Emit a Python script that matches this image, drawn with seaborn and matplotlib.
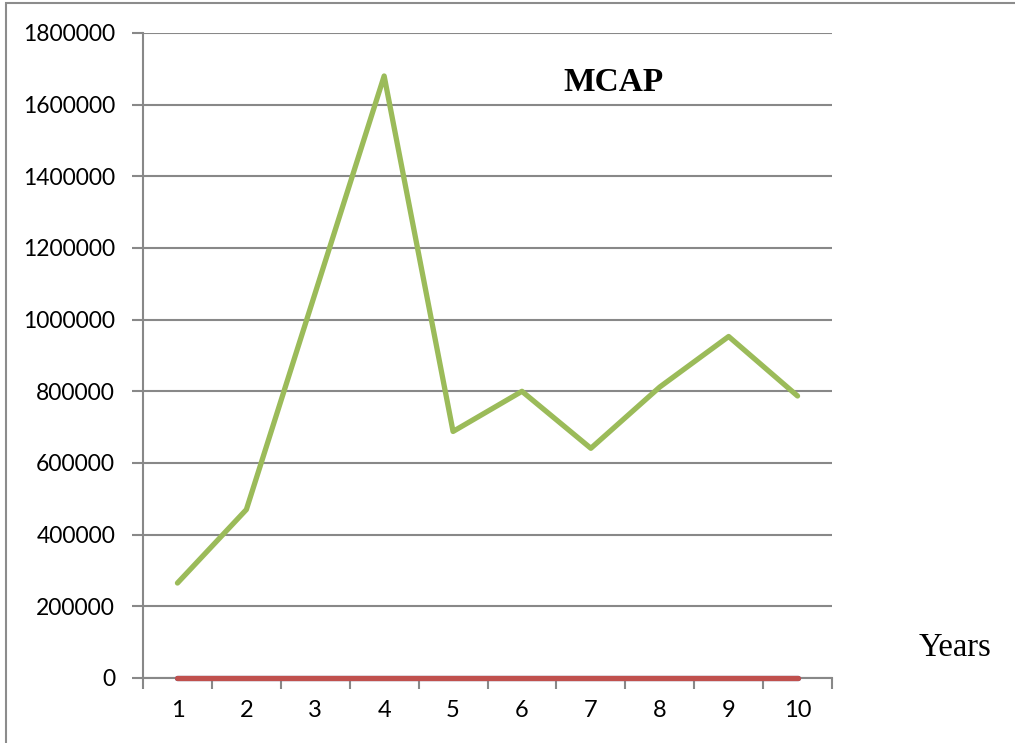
import numpy as np
import pandas as pd
import matplotlib.pyplot as plt
import seaborn as sns
from matplotlib.patches import Rectangle

# Data
years = [1, 2, 3, 4, 5, 6, 7, 8, 9, 10]
series_blue = [0, 0, 0, 0, 0, 0, 0, 0, 0, 0]
series_red = [0, 0, 0, 0, 0, 0, 0, 0, 0, 0]
mcap = [265000, 470000, 1075000, 1680000, 688000, 800000, 641000, 812000, 953000, 787000]

df = pd.DataFrame({
    'Year': years * 3,
    'Value': series_blue + series_red + mcap,
    'Series': ['A'] * 10 + ['B'] * 10 + ['MCAP'] * 10,
})

sns.set_style('white')
plt.rcParams['font.family'] = ['Lato', 'DejaVu Sans']
plt.rcParams['text.color'] = 'black'
plt.rcParams['xtick.labelcolor'] = 'black'
plt.rcParams['ytick.labelcolor'] = 'black'

fig = plt.figure(figsize=(10.15, 7.43), dpi=100)
ax = fig.add_axes([0.1409, 0.0875, 0.6788, 0.8681])

palette = {'A': '#4F81BD', 'B': '#C0504D', 'MCAP': '#9BBB59'}
sns.lineplot(data=df, x='Year', y='Value', hue='Series', palette=palette,
             legend=False, ax=ax)
for line in ax.lines:
    line.set_linewidth(3.8)
    line.set_solid_capstyle('round')
    line.set_solid_joinstyle('round')
    line.set_clip_on(False)
    line.set_zorder(3)

grid_col = '#888888'
ax.set_xlim(0.5, 10.5)
ax.set_ylim(0, 1800000)
ax.set_yticks(np.arange(0, 1800001, 200000))
ax.set_yticklabels([str(v) for v in range(0, 1800001, 200000)], fontsize=16.5)
ax.yaxis.grid(True, color=grid_col, linewidth=1.5)
ax.xaxis.grid(False)

# category axis: ticks between categories, labels at centres
ax.set_xticks(np.arange(0.5, 11, 1))
ax.set_xticklabels([])
ax.set_xticks(years, minor=True)
ax.set_xticklabels([str(y) for y in years], minor=True, fontsize=17)
ax.tick_params(axis='x', which='major', direction='out', length=8, width=1.5, color=grid_col, bottom=True)
ax.tick_params(axis='x', which='minor', length=0, pad=16)
ax.tick_params(axis='y', direction='out', length=8, width=1.5, color=grid_col, left=True, pad=12)

for side in ['top', 'right']:
    ax.spines[side].set_visible(False)
for side in ['left', 'bottom']:
    ax.spines[side].set_color(grid_col)
    ax.spines[side].set_linewidth(1.5)

ax.set_xlabel('')
ax.set_ylabel('')

fig.text(0.604, 0.889, 'MCAP', family='Liberation Serif', fontweight='bold',
         fontsize=24, ha='center', va='center', color='black')
fig.text(0.941, 0.128, 'Years', family='Liberation Serif', fontsize=23.5,
         ha='center', va='center', color='black')

# outer frame
fig.patches.append(Rectangle((6 / 1015, -0.1), 1.2, 1.1 - 3 / 743, transform=fig.transFigure,
                             fill=False, edgecolor='#8c8c8c', linewidth=1.5))

fig.savefig('out.png', dpi=100)
